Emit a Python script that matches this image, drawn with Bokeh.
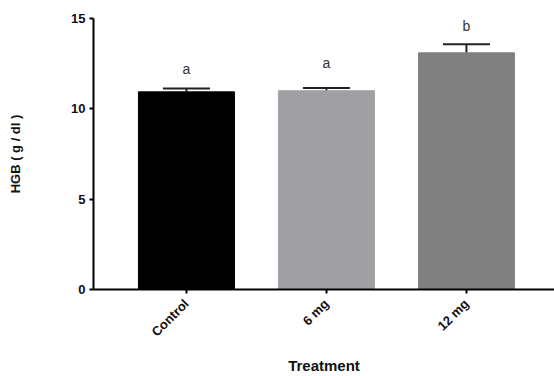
import math
from bokeh.plotting import figure
from bokeh.models import Range1d, FixedTicker, Whisker, TeeHead, ColumnDataSource, Label
from bokeh.embed import file_html
from bokeh.resources import INLINE

# Haemoglobin by treatment group (mean and SEM, g/dl)
groups = ["Control", "6 mg", "12 mg"]
hgb_mean = [10.94, 11.00, 13.10]
hgb_sem = [0.18, 0.16, 0.48]
letters = ["a", "a", "b"]
bar_colors = ["#000000", "#a0a0a4", "#808080"]
y_ticks = [0, 5, 10, 15]

FONT = "Liberation Sans"

xs = list(range(len(groups)))
upper = [m + s for m, s in zip(hgb_mean, hgb_sem)]
src = ColumnDataSource(dict(x=xs, mean=hgb_mean, upper=upper,
                            letter=letters, color=bar_colors))

p = figure(width=554, height=376, output_backend="svg", toolbar_location=None,
           x_range=Range1d(-0.664, 2.629), y_range=Range1d(0, 15),
           min_border_left=93, min_border_right=0, min_border_top=18,
           min_border_bottom=86, background_fill_color="white",
           border_fill_color="white")
p.outline_line_color = None
p.grid.visible = False

p.vbar(x="x", top="mean", width=0.686, bottom=0, fill_color="color",
       line_color="color", source=src)

err = Whisker(base="x", lower="mean", upper="upper", source=src,
              line_color="#222222", line_width=2,
              upper_head=TeeHead(size=47, line_color="#222222", line_width=2),
              lower_head=None)
p.add_layout(err)

# significance letters above the error caps
letter_offsets = [20, 25, 18]
for x, u, t, off in zip(xs, upper, letters, letter_offsets):
    p.add_layout(Label(x=x, y=u, y_offset=off, text=t, text_align="center",
                       text_baseline="middle", text_font=FONT,
                       text_font_size="14px", text_color="#333333"))

for ax in (p.xaxis[0], p.yaxis[0]):
    ax.axis_line_width = 2
    ax.axis_line_color = "black"
    ax.major_tick_line_width = 2
    ax.major_tick_line_color = "black"
    ax.major_tick_in = 0
    ax.major_tick_out = 4
    ax.minor_tick_line_color = None
    ax.major_label_text_font = FONT
    ax.major_label_text_font_style = "bold"
    ax.major_label_text_font_size = "13px"
    ax.major_label_text_color = "#111111"
    ax.axis_label_text_font = FONT
    ax.axis_label_text_font_style = "bold"
    ax.axis_label_text_color = "#111111"

p.yaxis.ticker = FixedTicker(ticks=y_ticks)
p.yaxis.major_label_standoff = 4
p.yaxis.axis_label = "HGB ( g / dl )"
p.yaxis.axis_label_text_font_size = "13px"
p.yaxis.axis_label_standoff = 45

p.xaxis.ticker = FixedTicker(ticks=xs)
p.xaxis.major_label_overrides = {i: g for i, g in enumerate(groups)}
p.xaxis.major_label_orientation = math.pi / 4
p.xaxis.major_label_standoff = 8
p.xaxis.axis_label = "Treatment"
p.xaxis.axis_label_text_font_size = "15px"
p.xaxis.axis_label_standoff = 9

open("out.html", "w").write(file_html(p, INLINE))
